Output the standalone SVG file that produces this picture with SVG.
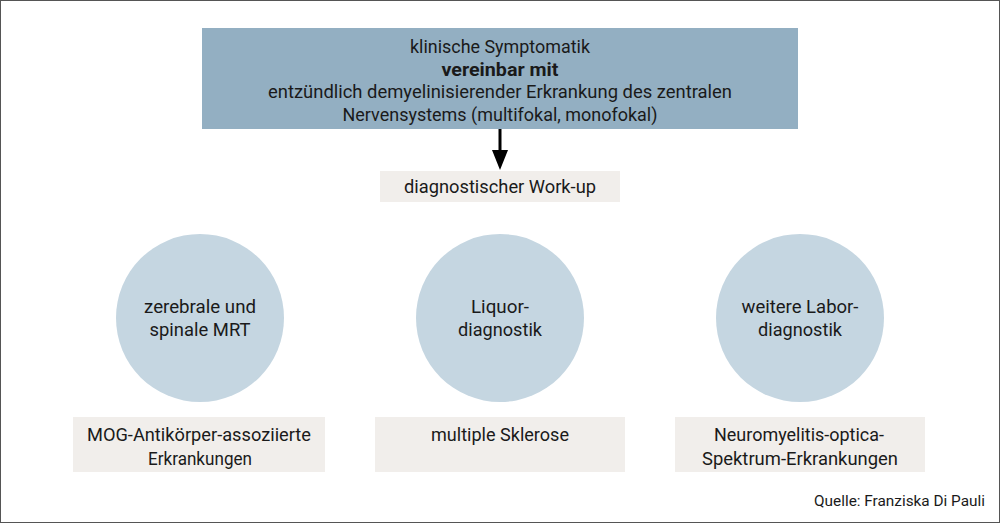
<svg xmlns="http://www.w3.org/2000/svg" width="1000" height="523" viewBox="0 0 1000 523">
<defs>
<style>
.t{font-family:Roboto,"Liberation Sans",sans-serif;font-size:18px;fill:#1a1a1a;text-anchor:middle}
.b{font-weight:bold}
.src{font-family:Roboto,"Liberation Sans",sans-serif;font-size:15px;fill:#1a1a1a;text-anchor:end}
.top{fill:#93afc2}
.lab{fill:#f1eeeb}
.circ{fill:#c5d6e1}
</style>
<marker id="arr" viewBox="0 0 16 20" refX="8" refY="20" markerWidth="16" markerHeight="20" markerUnits="userSpaceOnUse" orient="auto-start-reverse">
<path d="M0,0 L16,0 L8,20 Z" fill="#000"/>
</marker>
</defs>
<rect x="0.5" y="0.5" width="999" height="522" fill="#fff" stroke="#555" stroke-width="1"/>
<g id="connectors">
<line x1="500" y1="129" x2="500" y2="150" stroke="#000" stroke-width="3"/>
<path d="M492,150 L508,150 L500,170 Z" fill="#000"/>
</g>
<g id="node-top">
<rect class="top" x="202" y="28" width="596" height="101"/>
<text class="t" x="500" y="53" textLength="180" lengthAdjust="spacingAndGlyphs">klinische Symptomatik</text>
<text class="t b" x="500" y="76" textLength="117" lengthAdjust="spacingAndGlyphs">vereinbar mit</text>
<text class="t" x="500" y="98" textLength="464" lengthAdjust="spacingAndGlyphs">entzündlich demyelinisierender Erkrankung des zentralen</text>
<text class="t" x="500" y="121" textLength="315" lengthAdjust="spacingAndGlyphs">Nervensystems (multifokal, monofokal)</text>
</g>
<g id="node-workup">
<rect class="lab" x="380" y="171" width="240" height="31"/>
<text class="t" x="500" y="193" textLength="192" lengthAdjust="spacingAndGlyphs">diagnostischer Work-up</text>
</g>
<g id="node-mrt">
<circle class="circ" cx="200" cy="318" r="84"/>
<text class="t" x="200" y="313" textLength="112" lengthAdjust="spacingAndGlyphs">zerebrale und</text>
<text class="t" x="200" y="336" textLength="101" lengthAdjust="spacingAndGlyphs">spinale MRT</text>
</g>
<g id="node-liquor">
<circle class="circ" cx="500" cy="318" r="84"/>
<text class="t" x="500" y="313" textLength="58" lengthAdjust="spacingAndGlyphs">Liquor-</text>
<text class="t" x="500" y="336" textLength="84" lengthAdjust="spacingAndGlyphs">diagnostik</text>
</g>
<g id="node-labor">
<circle class="circ" cx="800" cy="318" r="84"/>
<text class="t" x="800" y="313" textLength="117" lengthAdjust="spacingAndGlyphs">weitere Labor-</text>
<text class="t" x="800" y="336" textLength="84" lengthAdjust="spacingAndGlyphs">diagnostik</text>
</g>
<g id="node-mog">
<rect class="lab" x="73" y="417" width="252" height="55"/>
<text class="t" x="199" y="441" textLength="224" lengthAdjust="spacingAndGlyphs">MOG-Antikörper-assoziierte</text>
<text class="t" x="200" y="465" textLength="104" lengthAdjust="spacingAndGlyphs">Erkrankungen</text>
</g>
<g id="node-ms">
<rect class="lab" x="375" y="417" width="250" height="55"/>
<text class="t" x="500" y="441" textLength="138" lengthAdjust="spacingAndGlyphs">multiple Sklerose</text>
</g>
<g id="node-nmosd">
<rect class="lab" x="675" y="417" width="250" height="55"/>
<text class="t" x="799" y="441" textLength="170" lengthAdjust="spacingAndGlyphs">Neuromyelitis-optica-</text>
<text class="t" x="800" y="465" textLength="196" lengthAdjust="spacingAndGlyphs">Spektrum-Erkrankungen</text>
</g>
<text class="src" x="985" y="506" textLength="171" lengthAdjust="spacingAndGlyphs">Quelle: Franziska Di Pauli</text>
</svg>
